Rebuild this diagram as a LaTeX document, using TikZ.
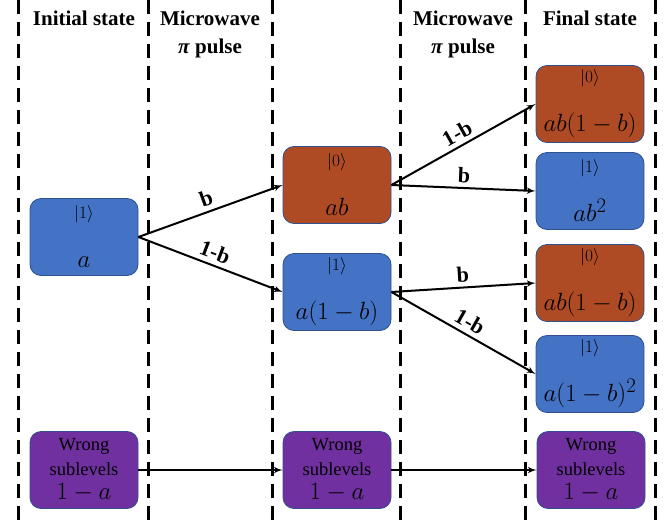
\documentclass[tikz,border=0pt]{standalone}
\usepackage{fontspec}
\setmainfont{Liberation Serif}
\usepackage{pgf,tikz}
\usetikzlibrary{arrows}

\definecolor{levelblue}{RGB}{68,114,196}
\definecolor{levelorange}{RGB}{174,75,36}
\definecolor{levelpurple}{RGB}{112,48,160}
\definecolor{leveledge}{RGB}{47,82,143}

\tikzset{
  levelbox/.style={draw=leveledge, line width=0.8pt, rounded corners=11pt,
    minimum width=108pt, minimum height=77pt, inner sep=0pt, align=center,
    font=\fontsize{17.28}{49}\selectfont},
  upbox/.style={levelbox, fill=levelblue},
  downbox/.style={levelbox, fill=levelorange},
  wrongbox/.style={levelbox, fill=levelpurple, font=\fontsize{18.5}{24.5}\selectfont},
  divider/.style={line width=3pt, dash pattern=on 14pt off 8pt},
  header/.style={font=\fontsize{21}{28}\selectfont\bfseries, align=center},
  trans/.style={line width=2pt, -latex'},
  prob/.style={font=\fontsize{22}{22}\selectfont\bfseries, above=1pt, sloped, midway}
}
\newcommand{\ket}[1]{{\fontsize{17.28}{49}\selectfont$|#1\rangle$}}
\newcommand{\amp}[1]{{\fontsize{24.88}{24.88}\selectfont$#1$}}

\begin{document}
\begin{tikzpicture}[x=1pt,y=-1pt]
\useasboundingbox (0,0) rectangle (671,522);

% column separators
\foreach \xpos in {18,148,272,400,525,655}
  \draw[divider] (\xpos,0) -- (\xpos,522);

% headers
\node[header] (hinit) at (84,18) {Initial state};
\node[header] (hpulse1) at (210,34) {Microwave\\\textit{π} pulse};
\node[header] (hpulse2) at (463,34) {Microwave\\\textit{π} pulse};
\node[header] (hfinal) at (590,18) {Final state};

% states
\node[upbox] (init) at (84,237) {\ket{1}\\\amp{a}};
\node[downbox] (mid0) at (337,185) {\ket{0}\\\amp{ab}};
\node[upbox] (mid1) at (337,292) {\ket{1}\\\amp{a(1-b)}};
\node[downbox] (fin00) at (590,104) {\ket{0}\\\amp{ab(1-b)}};
\node[upbox] (fin01) at (590,191) {\ket{1}\\\amp{ab^2}};
\node[downbox] (fin10) at (590,283) {\ket{0}\\\amp{ab(1-b)}};
\node[upbox] (fin11) at (590,374) {\ket{1}\\\amp{a(1-b)^2}};

\node[wrongbox] (wrong1) at (84,470) {Wrong\\sublevels\\\amp{1-a}};
\node[wrongbox] (wrong2) at (337,470) {Wrong\\sublevels\\\amp{1-a}};
\node[wrongbox] (wrong3) at (591,470) {Wrong\\sublevels\\\amp{1-a}};

% transitions
\draw[trans] (init.east) -- (mid0.west) node[prob] {b};
\draw[trans] (init.east) -- (mid1.west) node[prob] {1-b};
\draw[trans] (mid0.east) -- (fin00.west) node[prob] {1-b};
\draw[trans] (mid0.east) -- (fin01.west) node[prob] {b};
\draw[trans] (mid1.east) -- (fin10.west) node[prob] {b};
\draw[trans] (mid1.east) -- (fin11.west) node[prob] {1-b};
\draw[trans] (wrong1.east) -- (wrong2.west);
\draw[trans] (wrong2.east) -- (wrong3.west);
\end{tikzpicture}
\end{document}
